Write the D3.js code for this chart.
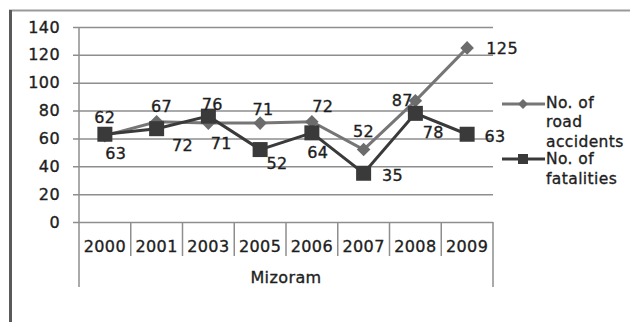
<!DOCTYPE html>
<html>
<head>
<meta charset="utf-8">
<script src="https://cdn.jsdelivr.net/npm/d3@7"></script>
<style>
  body { margin: 0; background: #fff; }
  text { font-family: "DejaVu Sans", sans-serif; fill: #1e1e1e; stroke: #1e1e1e; stroke-width: 0.35px; letter-spacing: 0.4px; }
</style>
</head>
<body>
<svg id="chart" width="630" height="322"></svg>
<script>
// Data
const years = ["2000", "2001", "2003", "2005", "2006", "2007", "2008", "2009"];
const roadAccidents = [62, 72, 71, 71, 72, 52, 87, 125];
const fatalities = [63, 67, 76, 52, 64, 35, 78, 63];
const yTicks = [0, 20, 40, 60, 80, 100, 120, 140];
const groupLabel = "Mizoram";
const accidentsLegend = ["No. of", "road", "accidents"];
const fatalitiesLegend = ["No. of", "fatalities"];

// Value-label placement around each point (dx, dy in px)
const accidentsLabelOffset = [[0, -18], [26, 24], [13, 20], [3, -14], [11, -15], [0, -18], [-13, 0], [35, 1]];
const fatalitiesLabelOffset = [[11, 19], [5, -22], [4, -12], [17, 14], [6, 20], [29, 2], [18, 19], [28, 2]];

const svg = d3.select("#chart");
const plotL = 79, plotR = 493, plotT = 27, plotB = 222;

const x = d3.scaleBand().domain(years).range([plotL, plotR]).padding(0);
const y = d3.scaleLinear().domain([0, 140]).range([plotB, plotT]);
const cx = d => x(d) + x.bandwidth() / 2;

// Outer frame
svg.append("line").attr("x1", 9).attr("x2", 630).attr("y1", 10.5).attr("y2", 10.5)
  .attr("stroke", "#9a9a9a").attr("stroke-width", 2);
svg.append("line").attr("x1", 10.5).attr("x2", 10.5).attr("y1", 10).attr("y2", 322)
  .attr("stroke", "#5a5a5a").attr("stroke-width", 3);

// Horizontal gridlines with left tick stubs
const yAxis = d3.axisLeft(y).tickValues(yTicks).tickSize(0).tickPadding(13);
const gy = svg.append("g").attr("transform", `translate(${plotL - 6},0)`).call(yAxis);
gy.select(".domain").remove();
gy.selectAll(".tick line").attr("stroke", "#8e8e8e").attr("stroke-width", 1.5)
  .attr("x1", 0).attr("x2", plotR - plotL + 6);
gy.selectAll(".tick text").attr("font-size", 16).attr("x", -13).style("fill", "#1e1e1e");

// Vertical axis line
svg.append("line").attr("x1", plotL).attr("x2", plotL).attr("y1", plotT).attr("y2", 287)
  .attr("stroke", "#8e8e8e").attr("stroke-width", 1.5);
svg.append("line").attr("x1", plotR).attr("x2", plotR).attr("y1", plotB).attr("y2", 287)
  .attr("stroke", "#8e8e8e").attr("stroke-width", 1.5);

// Category dividers and labels
const gx = svg.append("g");
gx.selectAll("line.div").data(years.slice(1)).enter().append("line")
  .attr("x1", d => x(d)).attr("x2", d => x(d)).attr("y1", plotB).attr("y2", 256)
  .attr("stroke", "#8e8e8e").attr("stroke-width", 1.5);
gx.selectAll("text.yr").data(years).enter().append("text")
  .attr("x", cx).attr("y", 246).attr("text-anchor", "middle").attr("dominant-baseline", "central")
  .attr("font-size", 16).text(d => d);
svg.append("text").attr("x", (plotL + plotR) / 2).attr("y", 277)
  .attr("text-anchor", "middle").attr("dominant-baseline", "central")
  .attr("font-size", 16).text(groupLabel);

// Series
const line = d3.line().x((d, i) => cx(years[i])).y(d => y(d));
const accColor = "#767676", accMarker = "#6c6c6c";
const fatColor = "#3a3a3a";

svg.append("path").datum(roadAccidents).attr("d", line)
  .attr("fill", "none").attr("stroke", accColor).attr("stroke-width", 3);
svg.append("path").datum(fatalities).attr("d", line)
  .attr("fill", "none").attr("stroke", fatColor).attr("stroke-width", 3);

svg.selectAll("rect.diamond").data(roadAccidents).enter().append("rect")
  .attr("x", -4.8).attr("y", -4.8).attr("width", 9.6).attr("height", 9.6)
  .attr("transform", (d, i) => `translate(${cx(years[i])},${y(d)}) rotate(45)`)
  .attr("fill", accMarker);

svg.selectAll("rect.square").data(fatalities).enter().append("rect")
  .attr("x", (d, i) => cx(years[i]) - 7.5).attr("y", d => y(d) - 7.5)
  .attr("width", 15).attr("height", 15).attr("fill", fatColor);

// Value labels
svg.selectAll("text.acc").data(roadAccidents).enter().append("text")
  .attr("x", (d, i) => cx(years[i]) + accidentsLabelOffset[i][0])
  .attr("y", (d, i) => y(d) + accidentsLabelOffset[i][1])
  .attr("text-anchor", "middle").attr("dominant-baseline", "central")
  .attr("font-size", 16).text(d => d);
svg.selectAll("text.fat").data(fatalities).enter().append("text")
  .attr("x", (d, i) => cx(years[i]) + fatalitiesLabelOffset[i][0])
  .attr("y", (d, i) => y(d) + fatalitiesLabelOffset[i][1])
  .attr("text-anchor", "middle").attr("dominant-baseline", "central")
  .attr("font-size", 16).text(d => d);

// Legend
const lg = svg.append("g");
lg.append("line").attr("x1", 502).attr("x2", 545).attr("y1", 104).attr("y2", 104)
  .attr("stroke", accColor).attr("stroke-width", 3);
lg.append("rect").attr("x", -3.5).attr("y", -3.5).attr("width", 7).attr("height", 7)
  .attr("transform", "translate(523,104) rotate(45)").attr("fill", accMarker);
lg.append("text").attr("font-size", 15.5).selectAll("tspan").data(accidentsLegend).enter()
  .append("tspan").attr("x", 546).attr("y", (d, i) => 103 + i * 19.3)
  .attr("dominant-baseline", "central").text(d => d);

lg.append("line").attr("x1", 502).attr("x2", 545).attr("y1", 159).attr("y2", 159)
  .attr("stroke", fatColor).attr("stroke-width", 3);
lg.append("rect").attr("x", 518).attr("y", 154).attr("width", 10).attr("height", 10).attr("fill", fatColor);
lg.append("text").attr("font-size", 15.5).selectAll("tspan").data(fatalitiesLegend).enter()
  .append("tspan").attr("x", 546).attr("y", (d, i) => 159 + i * 19.5)
  .attr("dominant-baseline", "central").text(d => d);
</script>
</body>
</html>
